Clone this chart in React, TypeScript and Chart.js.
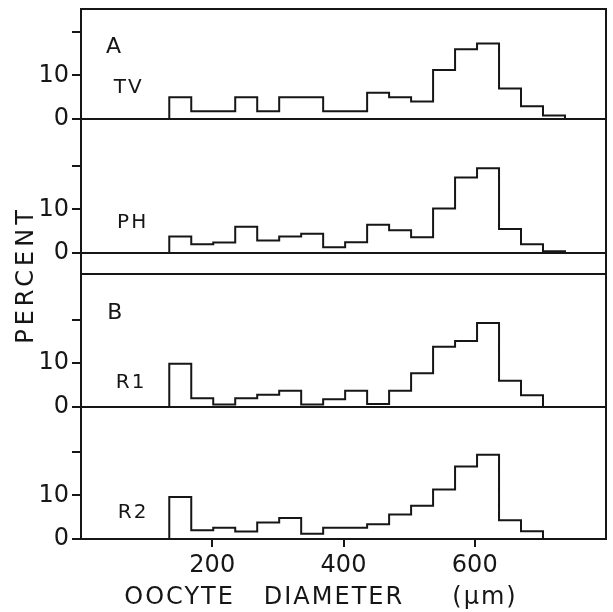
import React, { useEffect, useRef } from 'react';
import { Chart, registerables } from 'chart.js';

Chart.register(...registerables);

// Bin edges (µm) of the oocyte diameter histograms
const binEdges = [134.5, 168, 201.5, 235, 268.5, 302, 335.5, 369, 402.5, 436, 469.5, 503, 536.5, 570, 603.5, 637, 670.5, 704, 737.5];

// Percent of oocytes per bin
const tvPercent = [5, 1.8, 1.8, 5, 1.8, 5, 5, 1.8, 1.8, 6, 5, 4, 11.2, 16.0, 17.3, 7.0, 2.9, 0.8];
const phPercent = [3.8, 2.0, 2.4, 6.0, 2.9, 3.8, 4.4, 1.3, 2.5, 6.5, 5.2, 3.6, 10.2, 17.3, 19.4, 5.5, 2.0, 0.4];
const r1Percent = [9.9, 2.0, 0.6, 2.0, 2.8, 3.7, 0.6, 1.8, 3.7, 0.7, 3.7, 7.7, 13.8, 15.1, 19.2, 6.0, 2.7];
const r2Percent = [9.6, 2.0, 2.6, 1.7, 3.8, 4.8, 1.2, 2.6, 2.6, 3.4, 5.6, 7.6, 11.3, 16.6, 19.3, 4.3, 1.8];

const xTicks = [200, 400, 600];
const yTicks = [0, 10, 20];
const yLabelled = [0, 10];

const panelNames = ['TV', 'PH', 'R1', 'R2'];
const panelAxes = ['yTV', 'yPH', 'yR1', 'yR2'];
const panelMin = [0, -4.8, 0, 0];
const panelMax = [25.2, 30.7, 30.4, 30.2];
const panelHeights = [110, 155, 133, 132];
const panelLabelX = [50, 55, 53, 56];
const panelLabelY = [7.1, 6.9, 5.5, 6.0];

const groupLetters = ['A', 'B'];
const groupAxes = ['yTV', 'yR1'];
const groupLetterX = [38, 40];
const groupLetterY = [16.5, 21.5];

const xTitle = 'OOCYTE   DIAMETER     (µm)';
const yTitle = 'PERCENT';

const INK = '#161616';
const FONT = '"DejaVu Sans", sans-serif';

function toSteps(values: number[]) {
  const pts = [{ x: binEdges[0], y: 0 }];
  values.forEach((v, i) => pts.push({ x: binEdges[i], y: v }));
  pts.push({ x: binEdges[values.length], y: 0 });
  return pts;
}

const seriesList = [tvPercent, phPercent, r1Percent, r2Percent];

const framePlugin = {
  id: 'frameAndText',
  afterDraw(chart: any) {
    const ctx = chart.ctx;
    const area = chart.chartArea;
    ctx.save();
    ctx.strokeStyle = INK;
    ctx.lineWidth = 2;
    ctx.strokeRect(area.left, area.top, area.right - area.left, area.bottom - area.top);
    panelAxes.forEach((id) => {
      const s = chart.scales[id];
      const y0 = s.getPixelForValue(0);
      ctx.beginPath();
      ctx.moveTo(area.left, y0);
      ctx.lineTo(area.right, y0);
      ctx.stroke();
      ctx.beginPath();
      ctx.moveTo(area.left, s.bottom);
      ctx.lineTo(area.right, s.bottom);
      ctx.stroke();
    });
    const xs = chart.scales.x;
    ctx.fillStyle = INK;
    ctx.textBaseline = 'middle';
    ctx.textAlign = 'left';
    // panel labels
    ctx.font = `20px ${FONT}`;
    (ctx as any).letterSpacing = '2px';
    panelNames.forEach((name, i) => {
      const s = chart.scales[panelAxes[i]];
      ctx.fillText(name, xs.getPixelForValue(panelLabelX[i]), s.getPixelForValue(panelLabelY[i]));
    });
    ctx.font = `22px ${FONT}`;
    (ctx as any).letterSpacing = '0px';
    groupLetters.forEach((g, i) => {
      const s = chart.scales[groupAxes[i]];
      ctx.fillText(g, xs.getPixelForValue(groupLetterX[i]), s.getPixelForValue(groupLetterY[i]));
    });
    // axis titles
    ctx.font = `24px ${FONT}`;
    ctx.textAlign = 'center';
    (ctx as any).letterSpacing = '2px';
    ctx.fillText(xTitle, 321, 598);
    ctx.save();
    ctx.translate(27, 275);
    ctx.rotate(-Math.PI / 2);
    (ctx as any).letterSpacing = '4px';
    ctx.fillText(yTitle, 0, 0);
    ctx.restore();
    (ctx as any).letterSpacing = '0px';
    ctx.restore();
  },
};

export default function App() {
  const ref = useRef<HTMLCanvasElement>(null);
  useEffect(() => {
    if (!ref.current) return;
    const yScales: any = {};
    panelAxes.forEach((id, i) => {
      yScales[id] = {
        type: 'linear',
        position: 'left',
        stack: 'panels',
        stackWeight: panelHeights[i],
        weight: 10 - i,
        min: panelMin[i],
        max: panelMax[i],
        afterBuildTicks: (scale: any) => {
          scale.ticks = yTicks.map((v) => ({ value: v }));
        },
        afterFit: (scale: any) => {
          scale.width = 81;
          scale.paddingTop = 0;
          scale.paddingBottom = 0;
        },
        ticks: {
          color: INK,
          padding: 3,
          autoSkip: false,
          font: { family: FONT, size: 24 },
          callback: (v: any) => (yLabelled.includes(v) ? String(v) : ''),
        },
        grid: { display: true, drawOnChartArea: false, drawTicks: true, tickLength: 9, color: INK, lineWidth: 2 },
        border: { display: true, color: INK, width: 2 },
      };
    });
    const chart = new Chart(ref.current, {
      type: 'line',
      data: {
        datasets: seriesList.map((vals, i) => ({
          label: panelNames[i],
          data: toSteps(vals),
          yAxisID: panelAxes[i],
          stepped: 'before' as const,
          borderColor: INK,
          borderWidth: 2,
          pointRadius: 0,
          fill: false,
        })),
      },
      options: {
        responsive: false,
        animation: false,
        layout: { padding: { top: 9, right: 7, left: 0, bottom: 0 } },
        plugins: { legend: { display: false }, tooltip: { enabled: false }, title: { display: false } },
        scales: {
          x: {
            type: 'linear',
            min: 0,
            max: 800,
            afterBuildTicks: (scale: any) => {
              scale.ticks = xTicks.map((v) => ({ value: v }));
            },
            afterFit: (scale: any) => {
              scale.height = 73;
              scale.paddingLeft = 0;
              scale.paddingRight = 0;
            },
            ticks: { color: INK, padding: 4, autoSkip: false, maxRotation: 0, font: { family: FONT, size: 24 } },
            grid: { display: true, drawOnChartArea: false, drawTicks: true, tickLength: 8, color: INK, lineWidth: 2 },
            border: { display: true, color: INK, width: 2 },
          },
          ...yScales,
        },
      },
      plugins: [framePlugin],
    });
    return () => chart.destroy();
  }, []);
  return (
    <div style={{ position: 'absolute', left: 0, top: 0, width: 613, height: 612, background: '#fff' }}>
      <canvas ref={ref} width={613} height={612} style={{ display: 'block' }} />
    </div>
  );
}
